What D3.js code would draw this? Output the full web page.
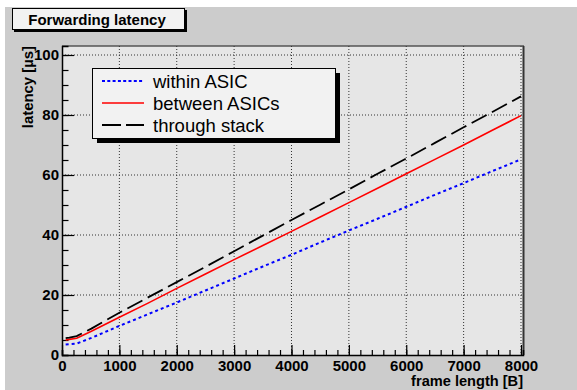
<!DOCTYPE html>
<html><head><meta charset="utf-8">
<script src="https://cdn.jsdelivr.net/npm/d3@7"></script>
<style>body{margin:0;background:#fff}svg{display:block}</style>
</head><body>
<svg id="c" width="577" height="390"></svg>
<script>
const frameLen = [64, 128, 256, 512, 1000, 1500, 2000, 2500, 3000, 3500, 4000, 4500, 5000, 5500, 6000, 6500, 7000, 7500, 8000];
const withinASIC = [3.5, 3.6, 3.8, 5.7, 9.7, 13.6, 17.5, 21.5, 25.5, 29.5, 33.4, 37.5, 41.5, 45.4, 49.4, 53.4, 57.3, 61.3, 65.2];
const betweenASICs = [5.0, 5.2, 5.6, 7.9, 12.6, 17.3, 22.2, 27.0, 31.8, 36.5, 41.2, 46.0, 50.8, 55.6, 60.4, 65.2, 70.0, 74.9, 79.8];
const throughStack = [5.6, 5.8, 6.3, 8.8, 14.1, 19.2, 24.3, 29.4, 34.6, 39.8, 45.0, 50.1, 55.2, 60.4, 65.5, 70.7, 75.9, 81.0, 86.2];
const seriesNames = ["within ASIC", "between ASICs", "through stack"];
const xTicks = [0, 1000, 2000, 3000, 4000, 5000, 6000, 7000, 8000];
const yTicks = [0, 20, 40, 60, 80, 100];
const title = "Forwarding latency";
const xTitle = "frame length [B]";
const yTitle = "latency [\u00b5s]";

const svg = d3.select("#c");
const F = "'Liberation Sans', Arial, Helvetica, sans-serif";
// canvas background
svg.append("rect").attr("x",5).attr("y",7).attr("width",572).attr("height",383).attr("fill","#cccccc");

const L = 62, R = 523, T = 46, B = 355;
const x = d3.scaleLinear().domain([0, 8035]).range([L, R]);
const y = d3.scaleLinear().domain([0, 103]).range([B, T]);

// plot area
svg.append("rect").attr("x",L).attr("y",T).attr("width",R-L).attr("height",B-T).attr("fill","#e6e6e6");
svg.append("line").attr("x1",L).attr("x2",R+1).attr("y1",T).attr("y2",T).attr("stroke","#555").attr("stroke-width",1.5);
svg.append("line").attr("x1",R+0.5).attr("x2",R+0.5).attr("y1",T).attr("y2",B).attr("stroke","#333").attr("stroke-width",2);

// grid
const g = svg.append("g");
xTicks.filter(d=>d>0).forEach(d=>{
  g.append("line").attr("x1",x(d)).attr("x2",x(d)).attr("y1",T).attr("y2",B)
   .attr("stroke","#333").attr("stroke-dasharray","1,2").attr("stroke-width",1);
});
yTicks.filter(d=>d>0).forEach(d=>{
  g.append("line").attr("x1",L).attr("x2",R).attr("y1",y(d)).attr("y2",y(d))
   .attr("stroke","#333").attr("stroke-dasharray","1,2").attr("stroke-width",1);
});

// axes
const xMinor = d3.range(0, 8001, 200);
const yMinor = d3.range(0, 101, 5);
const ax = svg.append("g").attr("transform",`translate(0,${B})`);
ax.call(d3.axisBottom(x).tickValues(xMinor).tickSize(-5).tickFormat(""));
ax.call(g=>g.selectAll(".tick line").attr("stroke","#000").attr("stroke-width",1.2));
ax.append("g").call(d3.axisBottom(x).tickValues(xTicks).tickSize(-10).tickFormat(d3.format("d")))
  .call(g=>g.select(".domain").remove())
  .call(g=>g.selectAll(".tick line").attr("stroke","#000").attr("stroke-width",1.2))
  .call(g=>g.selectAll("text").attr("y",5).attr("dy","0.71em").attr("font-family",F).attr("font-weight","bold").attr("font-size",15).attr("fill","#000"));
ax.select(".domain").attr("stroke","#000").attr("stroke-width",1.5);

const ay = svg.append("g").attr("transform",`translate(${L},0)`);
ay.call(d3.axisLeft(y).tickValues(yMinor).tickSize(-6.5).tickFormat(""));
ay.call(g=>g.selectAll(".tick line").attr("stroke","#000").attr("stroke-width",1.2));
ay.append("g").call(d3.axisLeft(y).tickValues(yTicks).tickSize(-12).tickFormat(d3.format("d")))
  .call(g=>g.select(".domain").remove())
  .call(g=>g.selectAll(".tick line").attr("stroke","#000").attr("stroke-width",1.2))
  .call(g=>g.selectAll("text").attr("x",-3).attr("font-family",F).attr("font-weight","bold").attr("font-size",15).attr("fill","#000"));
ay.select(".domain").attr("stroke","#000").attr("stroke-width",1.5);

// lines
const styles = [
  {data: withinASIC, color:"#0000ff", dash:"3,3", w:2},
  {data: betweenASICs, color:"#ff0000", dash:null, w:1.6},
  {data: throughStack, color:"#000000", dash:"17,6", w:1.8}
];
const line = d3.line().x(d=>x(d[0])).y(d=>y(d[1]));
styles.forEach(s=>{
  svg.append("path").datum(frameLen.map((f,i)=>[f, s.data[i]]))
    .attr("d", line).attr("fill","none").attr("stroke", s.color)
    .attr("stroke-width", s.w).attr("stroke-dasharray", s.dash);
});

// legend
const lg = svg.append("g");
lg.append("rect").attr("x",97).attr("y",73).attr("width",243).attr("height",70).attr("fill","#000");
lg.append("rect").attr("x",92.5).attr("y",68.5).attr("width",243).attr("height",70).attr("fill","#f2f2f2").attr("stroke","#000").attr("stroke-width",1);
seriesNames.forEach((n,i)=>{
  const cy = 81 + i*22;
  const s = styles[i];
  lg.append("line").attr("x1",102).attr("x2",144).attr("y1",cy).attr("y2",cy)
    .attr("stroke",s.color).attr("stroke-width",s.w)
    .attr("stroke-dasharray", i===0 ? "3,2.3" : (i===2 ? "19,5" : null));
  lg.append("text").attr("x",153).attr("y",cy+6.5).text(n)
    .attr("font-family",F).attr("font-size",18.5).attr("fill","#000");
});

// title box
svg.append("rect").attr("x",14).attr("y",10).attr("width",173).attr("height",22).attr("fill","#000");
svg.append("rect").attr("x",12.5).attr("y",8.5).attr("width",172).attr("height",21).attr("fill","#f2f2f2").attr("stroke","#000").attr("stroke-width",1);
svg.append("text").attr("x",97).attr("y",24.5).attr("text-anchor","middle").text(title)
  .attr("font-family",F).attr("font-weight","bold").attr("font-size",15).attr("fill","#000");

// axis titles
svg.append("text").attr("x",R).attr("y",385.5).attr("text-anchor","end").text(xTitle)
  .attr("font-family",F).attr("font-weight","bold").attr("font-size",14.6).attr("fill","#000");
svg.append("text").attr("transform",`translate(33,${T}) rotate(-90)`).attr("text-anchor","end").text(yTitle)
  .attr("font-family",F).attr("font-weight","bold").attr("font-size",14.9).attr("fill","#000");
</script>
</body></html>
